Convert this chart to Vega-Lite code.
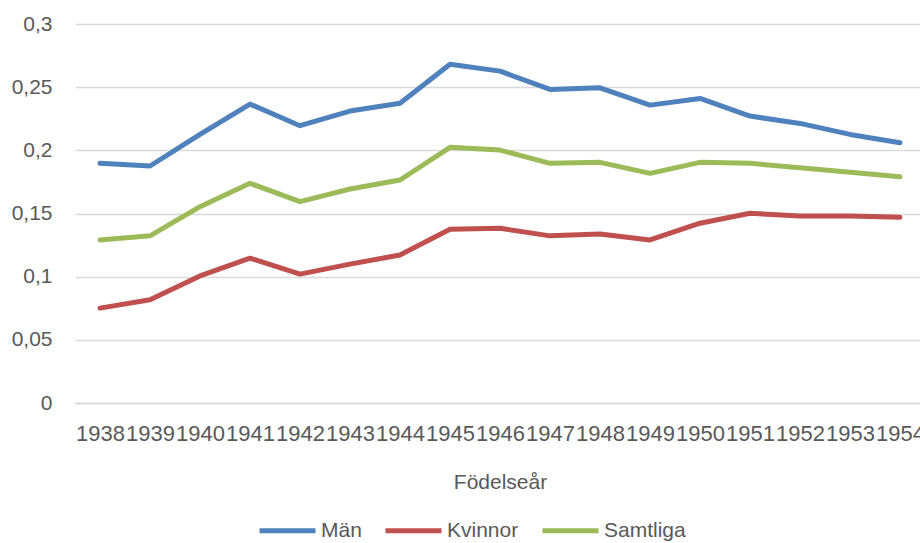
{
  "$schema": "https://vega.github.io/schema/vega-lite/v6.json",
  "autosize": {"type": "none"},
  "width": 850,
  "height": 379,
  "padding": {"left": 75, "top": 24, "right": 0, "bottom": 140},
  "background": "white",
  "config": {
    "view": {"stroke": null},
    "font": "Liberation Sans",
    "axis": {"labelFont": "Liberation Sans", "titleFont": "Liberation Sans", "labelColor": "#595959", "titleColor": "#595959"}
  },
  "data": {
    "values": [
      {"year": "1938", "serie": "Män", "value": 0.1897},
      {"year": "1939", "serie": "Män", "value": 0.1876},
      {"year": "1940", "serie": "Män", "value": 0.2126},
      {"year": "1941", "serie": "Män", "value": 0.2366},
      {"year": "1942", "serie": "Män", "value": 0.2195},
      {"year": "1943", "serie": "Män", "value": 0.2311},
      {"year": "1944", "serie": "Män", "value": 0.2372},
      {"year": "1945", "serie": "Män", "value": 0.2682},
      {"year": "1946", "serie": "Män", "value": 0.2627},
      {"year": "1947", "serie": "Män", "value": 0.2482},
      {"year": "1948", "serie": "Män", "value": 0.2495},
      {"year": "1949", "serie": "Män", "value": 0.2358},
      {"year": "1950", "serie": "Män", "value": 0.2411},
      {"year": "1951", "serie": "Män", "value": 0.2271},
      {"year": "1952", "serie": "Män", "value": 0.2213},
      {"year": "1953", "serie": "Män", "value": 0.2126},
      {"year": "1954", "serie": "Män", "value": 0.2060},
      {"year": "1938", "serie": "Kvinnor", "value": 0.0751},
      {"year": "1939", "serie": "Kvinnor", "value": 0.0817},
      {"year": "1940", "serie": "Kvinnor", "value": 0.1006},
      {"year": "1941", "serie": "Kvinnor", "value": 0.1146},
      {"year": "1942", "serie": "Kvinnor", "value": 0.1020},
      {"year": "1943", "serie": "Kvinnor", "value": 0.1099},
      {"year": "1944", "serie": "Kvinnor", "value": 0.1172},
      {"year": "1945", "serie": "Kvinnor", "value": 0.1375},
      {"year": "1946", "serie": "Kvinnor", "value": 0.1383},
      {"year": "1947", "serie": "Kvinnor", "value": 0.1323},
      {"year": "1948", "serie": "Kvinnor", "value": 0.1338},
      {"year": "1949", "serie": "Kvinnor", "value": 0.1291},
      {"year": "1950", "serie": "Kvinnor", "value": 0.1423},
      {"year": "1951", "serie": "Kvinnor", "value": 0.1502},
      {"year": "1952", "serie": "Kvinnor", "value": 0.1481},
      {"year": "1953", "serie": "Kvinnor", "value": 0.1481},
      {"year": "1954", "serie": "Kvinnor", "value": 0.1470},
      {"year": "1938", "serie": "Samtliga", "value": 0.1291},
      {"year": "1939", "serie": "Samtliga", "value": 0.1323},
      {"year": "1940", "serie": "Samtliga", "value": 0.1554},
      {"year": "1941", "serie": "Samtliga", "value": 0.1739},
      {"year": "1942", "serie": "Samtliga", "value": 0.1594},
      {"year": "1943", "serie": "Samtliga", "value": 0.1694},
      {"year": "1944", "serie": "Samtliga", "value": 0.1765},
      {"year": "1945", "serie": "Samtliga", "value": 0.2024},
      {"year": "1946", "serie": "Samtliga", "value": 0.2002},
      {"year": "1947", "serie": "Samtliga", "value": 0.1897},
      {"year": "1948", "serie": "Samtliga", "value": 0.1905},
      {"year": "1949", "serie": "Samtliga", "value": 0.1818},
      {"year": "1950", "serie": "Samtliga", "value": 0.1905},
      {"year": "1951", "serie": "Samtliga", "value": 0.1897},
      {"year": "1952", "serie": "Samtliga", "value": 0.1862},
      {"year": "1953", "serie": "Samtliga", "value": 0.1826},
      {"year": "1954", "serie": "Samtliga", "value": 0.1791}
    ]
  },
  "mark": {"type": "line", "strokeWidth": 5, "strokeCap": "round", "strokeJoin": "round"},
  "encoding": {
    "x": {
      "field": "year",
      "type": "ordinal",
      "title": "Födelseår",
      "axis": {
        "labelAngle": 0,
        "labelFontSize": 22,
        "labelOverlap": false,
        "labelBound": false,
        "labelPadding": 20,
        "ticks": false,
        "domainColor": "#D9D9D9",
        "domainWidth": 1.5,
        "titleFontSize": 21,
        "titleFontWeight": "normal",
        "titlePadding": 27
      }
    },
    "y": {
      "field": "value",
      "type": "quantitative",
      "scale": {"domain": [0, 0.3], "nice": false},
      "axis": {
        "title": null,
        "values": [0, 0.05, 0.1, 0.15, 0.2, 0.25, 0.3],
        "labelExpr": "replace(format(datum.value, '.2~f'), '.', ',')",
        "labelFontSize": 21,
        "labelPadding": 23,
        "ticks": false,
        "domain": false,
        "gridColor": "#D9D9D9",
        "gridWidth": 1.5
      }
    },
    "color": {
      "field": "serie",
      "type": "nominal",
      "sort": ["Män", "Kvinnor", "Samtliga"],
      "scale": {"domain": ["Män", "Kvinnor", "Samtliga"], "range": ["#4F81BD", "#C0504D", "#9BBB59"]},
      "legend": {
        "title": null,
        "orient": "none",
        "direction": "horizontal",
        "legendX": 182,
        "legendY": 476,
        "symbolType": "stroke",
        "symbolSize": 3136,
        "symbolStrokeWidth": 5,
        "labelFontSize": 21,
        "labelColor": "#595959",
        "labelOffset": 3,
        "columnPadding": 13
      }
    }
  }
}
